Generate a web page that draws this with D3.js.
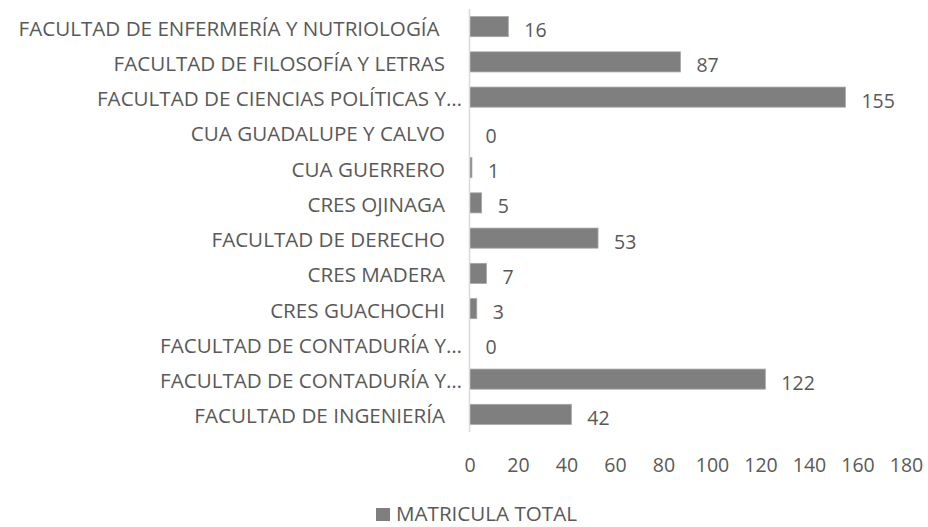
<!DOCTYPE html>
<html><head><meta charset="utf-8">
<script src="https://cdn.jsdelivr.net/npm/d3@7"></script>
<style>body{margin:0;background:#fff}svg{display:block}text{font-family:"Open Sans",sans-serif;fill:#595959;white-space:pre}</style>
</head><body><svg id="c" width="928" height="527"></svg>
<script>
const categories = [
  "FACULTAD DE ENFERMERÍA Y NUTRIOLOGÍA ",
  "FACULTAD DE FILOSOFÍA Y LETRAS",
  "FACULTAD DE CIENCIAS POLÍTICAS Y…",
  "CUA GUADALUPE Y CALVO",
  "CUA GUERRERO",
  "CRES OJINAGA",
  "FACULTAD DE DERECHO",
  "CRES MADERA",
  "CRES GUACHOCHI",
  "FACULTAD DE CONTADURÍA Y…",
  "FACULTAD DE CONTADURÍA Y…",
  "FACULTAD DE INGENIERÍA"
];
const values = [16, 87, 155, 0, 1, 5, 53, 7, 3, 0, 122, 42];
const xTicks = [0, 20, 40, 60, 80, 100, 120, 140, 160, 180];
const seriesName = "MATRICULA TOTAL";

const svg = d3.select("#c");
const x = d3.scaleLinear().domain([0, 180]).range([469.5, 906]);
const y = d3.scaleBand().domain(d3.range(categories.length)).range([9, 432]).paddingInner(0.43).paddingOuter(0.215);

svg.selectAll("rect.bar").data(values).join("rect")
  .attr("class", "bar")
  .attr("x", x(0))
  .attr("y", (d, i) => y(i))
  .attr("width", d => x(d) - x(0))
  .attr("height", y.bandwidth())
  .attr("fill", "#7f7f7f")
  .attr("stroke", "#a6a6a6").attr("stroke-width", 0.8)
  .attr("stroke-opacity", d => d > 0 ? 1 : 0);

svg.append("line").attr("x1", x(0)).attr("x2", x(0)).attr("y1", 9).attr("y2", 432)
  .attr("stroke", "#d9d9d9").attr("stroke-width", 1.5);

// truncated labels (ending in an ellipsis) overflow slightly toward the axis
svg.selectAll("text.cat").data(categories).join("text")
  .attr("class", "cat")
  .attr("x", d => d.endsWith("…") ? 462 : 445)
  .attr("y", (d, i) => y(i) + y.bandwidth() / 2 + 1)
  .attr("text-anchor", "end").attr("dominant-baseline", "central")
  .attr("font-size", 20.6)
  .text(d => d);

svg.selectAll("text.val").data(values).join("text")
  .attr("class", "val")
  .attr("x", d => x(d) + 16).attr("y", (d, i) => y(i) + y.bandwidth() / 2 + 3)
  .attr("dominant-baseline", "central")
  .attr("font-size", 19.5)
  .text(d => d);

const ax = svg.append("g").attr("transform", "translate(0,464)")
  .call(d3.axisBottom(x).tickValues(xTicks).tickSize(0).tickPadding(0));
ax.select(".domain").remove();
ax.selectAll("text").attr("font-size", 19.5).attr("fill", "#595959").attr("font-family", "Open Sans").attr("dy", null).attr("dominant-baseline", "central");

const lg = svg.append("g");
lg.append("rect").attr("x", 376).attr("y", 508).attr("width", 14).attr("height", 13).attr("fill", "#7f7f7f");
lg.append("text").attr("x", 396).attr("y", 521).attr("font-size", 20.6).text(seriesName);
</script></body></html>
